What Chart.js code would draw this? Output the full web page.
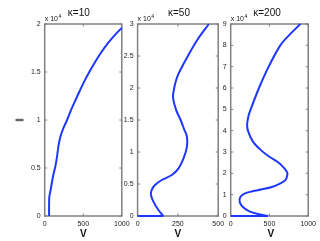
<!DOCTYPE html>
<html><head><meta charset="utf-8">
<script src="https://cdn.jsdelivr.net/npm/chart.js@4.4.1/dist/chart.umd.min.js"></script>
<style>
html,body{margin:0;padding:0;background:#fff;width:320px;height:241px;overflow:hidden;}
#wrap{position:relative;width:320px;height:241px;}
canvas{position:absolute;left:0;top:0;}
.t{position:absolute;font-family:'Liberation Sans',Arial,sans-serif;color:#111;white-space:nowrap;line-height:1;}
</style></head><body>
<div id="wrap">
<canvas id="c0" width="320" height="241"></canvas>
<canvas id="c1" width="320" height="241"></canvas>
<canvas id="c2" width="320" height="241"></canvas>
</div>
<script>
// ---- data (I in units of 10^4) ----
const kappas = [10, 50, 200];
const titles = ['\u03ba=10', '\u03ba=50', '\u03ba=200'];
const xLabel = 'V';
const yLabel = 'I';
const expLabel = ['x 10', '4'];

const V_k10 = [57, 57, 60, 74, 109, 139, 161, 178, 205, 245, 290, 340, 395, 452, 512, 578, 650, 730, 820, 915, 1000];
const I_k10 = [0, 0.10, 0.20, 0.26, 0.416, 0.52, 0.624, 0.728, 0.83, 0.92, 1.0, 1.1, 1.2, 1.3, 1.4, 1.5, 1.6, 1.7, 1.8, 1.89, 1.96];

const V_k50 = [0, 160, 129, 98, 83, 87, 108, 150, 212, 254, 285, 306, 306, 291, 267, 240, 220, 227, 250, 312, 370, 442];
const I_k50 = [0, 0, 0.094, 0.224, 0.328, 0.406, 0.484, 0.5625, 0.64, 0.745, 0.90, 1.083, 1.24, 1.34, 1.5, 1.65, 1.85, 2.0, 2.2, 2.5, 2.75, 3.0];

const V_k200 = [0, 481, 365, 240, 157, 116, 124, 178, 282, 406, 531, 635, 705, 730, 728, 700, 620, 490, 386, 285, 222, 212, 230, 258, 365, 490, 640, 760, 900];
const I_k200 = [0, 0, 0.08, 0.22, 0.42, 0.66, 0.89, 1.05, 1.16, 1.25, 1.36, 1.52, 1.68, 1.91, 2.05, 2.2, 2.5, 2.8, 3.1, 3.5, 4.0, 4.3, 4.7, 5.0, 6.0, 7.0, 8.0, 8.5, 9.0];

const xTicks = [[0, 500, 1000], [0, 250, 500], [0, 500, 1000]];
const yTicks = [[0, 0.5, 1, 1.5, 2], [0, 0.5, 1, 1.5, 2, 2.5, 3], [0, 1, 2, 3, 4, 5, 6, 7, 8, 9]];

const series = [[V_k10, I_k10], [V_k50, I_k50], [V_k200, I_k200]];

// ---- layout ----
const boxes = [
  {l: 44.7, r: 121.8, t: 24, b: 216},
  {l: 137.6, r: 218.2, t: 24, b: 216},
  {l: 230.7, r: 311, t: 24, b: 216}
];
const YW = 20, XH = 14;
const BLUE = 'rgb(30,55,255)';

Chart.defaults.font.family = "'Liberation Sans', Arial, sans-serif";
Chart.defaults.font.size = 7;
Chart.defaults.color = '#222';

const framePlugin = {
  id: 'frame',
  beforeDatasetsDraw(chart) {
    const {ctx, chartArea: a, scales: {x, y}} = chart;
    ctx.save();
    ctx.strokeStyle = '#808080';
    ctx.lineWidth = 1.5;
    ctx.strokeRect(a.left, a.top, a.right - a.left, a.bottom - a.top);
    ctx.lineWidth = 1;
    const tl = 2.5;
    ctx.beginPath();
    x.ticks.forEach(t => {
      const p = x.getPixelForValue(t.value);
      ctx.moveTo(p, a.bottom); ctx.lineTo(p, a.bottom - tl);
      ctx.moveTo(p, a.top); ctx.lineTo(p, a.top + tl);
    });
    y.ticks.forEach(t => {
      const p = y.getPixelForValue(t.value);
      ctx.moveTo(a.left, p); ctx.lineTo(a.left + tl, p);
      ctx.moveTo(a.right, p); ctx.lineTo(a.right - tl, p);
    });
    ctx.stroke();
    ctx.restore();
  }
};

function toPts(V, I) { return V.map((v, i) => ({x: v, y: I[i]})); }

series.forEach(([V, I], k) => {
  const bx = boxes[k];
  const pts = toPts(V, I);
  const hasBase = I[0] === 0 && I[1] === 0;
  const datasets = [];
  const common = {showLine: true, pointRadius: 0, borderColor: BLUE, borderWidth: 2, clip: false, fill: false};
  if (hasBase) {
    datasets.push(Object.assign({data: pts.slice(0, 2), tension: 0}, common));
    datasets.push(Object.assign({data: pts.slice(1), tension: 0.35}, common));
  } else {
    datasets.push(Object.assign({data: pts, tension: 0.35}, common));
  }
  const xt = xTicks[k], yt = yTicks[k];
  new Chart(document.getElementById('c' + k), {
    type: 'scatter',
    data: {datasets},
    options: {
      responsive: false, animation: false, devicePixelRatio: 1,
      layout: {padding: {left: bx.l - YW, right: 320 - bx.r, top: bx.t, bottom: 241 - bx.b - XH}},
      plugins: {legend: {display: false}, tooltip: {enabled: false}},
      scales: {
        x: {
          type: 'linear', min: xt[0], max: xt[xt.length - 1],
          grid: {display: false, drawTicks: false}, border: {display: false},
          ticks: {padding: 4, maxRotation: 0, autoSkip: false, callback: v => String(v)},
          afterBuildTicks: s => { s.ticks = xt.map(v => ({value: v})); },
          afterFit: s => { s.height = XH; }
        },
        y: {
          type: 'linear', min: yt[0], max: yt[yt.length - 1],
          grid: {display: false, drawTicks: false}, border: {display: false},
          ticks: {padding: 4, autoSkip: false, callback: v => String(v)},
          afterBuildTicks: s => { s.ticks = yt.map(v => ({value: v})); },
          afterFit: s => { s.width = YW; }
        }
      }
    },
    plugins: [framePlugin]
  });
});

// ---- text labels ----
const wrap = document.getElementById('wrap');
function addText(html, css) {
  const d = document.createElement('div');
  d.className = 't';
  d.innerHTML = html;
  Object.assign(d.style, css);
  wrap.appendChild(d);
  return d;
}
const titleCx = [78.8, 179, 267];
boxes.forEach((bx, k) => {
  addText(titles[k], {left: titleCx[k] + 'px', top: '8px', fontSize: '10px', transform: 'translateX(-50%)'});
  addText(expLabel[0] + '<span style="font-size:5px;position:relative;top:-3px;margin-left:0.5px">' + expLabel[1] + '</span>',
    {left: (bx.l) + 'px', top: '14.8px', fontSize: '7px'});
  addText(xLabel, {left: ((bx.l + bx.r) / 2) + 'px', top: '228.5px', fontSize: '10px', fontWeight: 'bold', transform: 'translateX(-50%)'});
});
addText(yLabel, {left: '20px', top: '120px', fontSize: '11px', fontWeight: 'bold', transform: 'translate(-50%,-50%) rotate(-90deg)'});
</script>
</body></html>
